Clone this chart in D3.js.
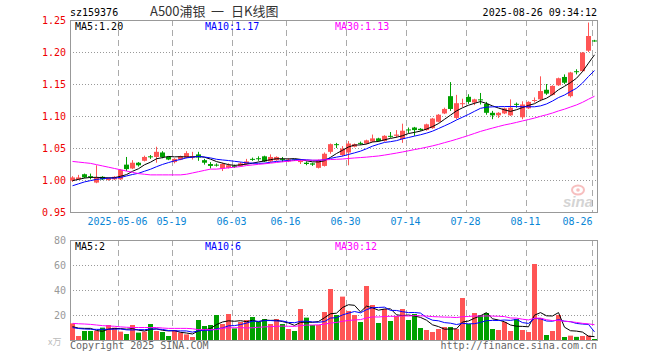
<!DOCTYPE html>
<html>
<head>
<meta charset="utf-8">
<script src="https://cdn.jsdelivr.net/npm/d3@7"></script>
<style>
body { margin: 0; background: #fff; }
svg { display: block; }
</style>
</head>
<body>
<svg width="660" height="360"></svg>
<script>
// trading days shown (2025)
var dates = ['04-21', '04-22', '04-23', '04-24', '04-25', '04-28', '04-29', '04-30', '05-06', '05-07',
  '05-08', '05-09', '05-12', '05-13', '05-14', '05-15', '05-16', '05-19', '05-20', '05-21',
  '05-22', '05-23', '05-26', '05-27', '05-28', '05-29', '05-30', '06-03', '06-04', '06-05',
  '06-06', '06-09', '06-10', '06-11', '06-12', '06-13', '06-16', '06-17', '06-18', '06-19',
  '06-20', '06-23', '06-24', '06-25', '06-26', '06-27', '06-30', '07-01', '07-02', '07-03',
  '07-04', '07-07', '07-08', '07-09', '07-10', '07-11', '07-14', '07-15', '07-16', '07-17',
  '07-18', '07-21', '07-22', '07-23', '07-24', '07-25', '07-28', '07-29', '07-30', '07-31',
  '08-01', '08-04', '08-05', '08-06', '08-07', '08-08', '08-11', '08-12', '08-13', '08-14',
  '08-15', '08-18', '08-19', '08-20', '08-21', '08-22', '08-25', '08-26'];

var open = [0.999, 1.001, 1.009, 1.006, 0.996, 1.005, 1.000, 1.001, 1.001, 1.024,
  1.018, 1.027, 1.030, 1.037, 1.036, 1.043, 1.036, 1.028, 1.032, 1.035,
  1.035, 1.040, 1.031, 1.025, 1.024, 1.018, 1.019, 1.022, 1.022, 1.025,
  1.033, 1.034, 1.037, 1.029, 1.031, 1.033, 1.029, 1.032, 1.028, 1.027,
  1.026, 1.019, 1.022, 1.044, 1.056, 1.039, 1.043, 1.052, 1.058, 1.057,
  1.060, 1.065, 1.061, 1.069, 1.069, 1.064, 1.079, 1.082, 1.080, 1.078,
  1.081, 1.091, 1.104, 1.131, 1.097, 1.119, 1.130, 1.121, 1.126, 1.119,
  1.105, 1.101, 1.104, 1.101, 1.119, 1.098, 1.112, 1.124, 1.126, 1.141,
  1.133, 1.148, 1.161, 1.131, 1.170, 1.170, 1.202, 1.218];

var high = [1.006, 1.008, 1.010, 1.010, 1.023, 1.006, 1.004, 1.006, 1.017, 1.036,
  1.031, 1.028, 1.038, 1.039, 1.052, 1.045, 1.037, 1.034, 1.038, 1.045,
  1.044, 1.044, 1.033, 1.028, 1.026, 1.027, 1.026, 1.024, 1.028, 1.033,
  1.035, 1.037, 1.038, 1.040, 1.037, 1.036, 1.034, 1.032, 1.032, 1.029,
  1.027, 1.032, 1.043, 1.057, 1.058, 1.053, 1.061, 1.057, 1.060, 1.063,
  1.071, 1.066, 1.070, 1.075, 1.078, 1.088, 1.082, 1.083, 1.081, 1.088,
  1.097, 1.103, 1.113, 1.153, 1.133, 1.127, 1.134, 1.127, 1.136, 1.122,
  1.108, 1.106, 1.113, 1.126, 1.121, 1.123, 1.123, 1.129, 1.162, 1.150,
  1.148, 1.160, 1.165, 1.169, 1.173, 1.200, 1.246, 1.219];

var low = [0.997, 1.000, 1.003, 1.001, 0.995, 1.000, 0.999, 1.000, 1.000, 1.014,
  1.017, 1.021, 1.029, 1.033, 1.027, 1.034, 1.031, 1.026, 1.031, 1.034,
  1.032, 1.030, 1.024, 1.018, 1.021, 1.014, 1.018, 1.019, 1.021, 1.024,
  1.030, 1.030, 1.028, 1.028, 1.030, 1.028, 1.028, 1.030, 1.025, 1.023,
  1.022, 1.018, 1.021, 1.041, 1.050, 1.037, 1.023, 1.051, 1.055, 1.056,
  1.059, 1.060, 1.060, 1.066, 1.066, 1.058, 1.073, 1.069, 1.077, 1.077,
  1.080, 1.090, 1.103, 1.108, 1.095, 1.114, 1.119, 1.117, 1.118, 1.102,
  1.095, 1.097, 1.103, 1.100, 1.113, 1.095, 1.111, 1.121, 1.123, 1.133,
  1.132, 1.147, 1.150, 1.129, 1.165, 1.169, 1.200, 1.216];

var close = [1.004, 1.004, 1.004, 1.005, 1.004, 1.001, 1.003, 1.005, 1.016, 1.017,
  1.027, 1.023, 1.036, 1.036, 1.044, 1.036, 1.032, 1.033, 1.037, 1.042,
  1.037, 1.035, 1.027, 1.022, 1.023, 1.025, 1.023, 1.021, 1.026, 1.029,
  1.032, 1.033, 1.029, 1.036, 1.036, 1.032, 1.032, 1.031, 1.030, 1.025,
  1.024, 1.031, 1.041, 1.056, 1.055, 1.049, 1.057, 1.056, 1.057, 1.062,
  1.065, 1.061, 1.069, 1.068, 1.071, 1.077, 1.078, 1.078, 1.078, 1.087,
  1.096, 1.102, 1.111, 1.111, 1.120, 1.120, 1.122, 1.126, 1.125, 1.105,
  1.101, 1.105, 1.112, 1.113, 1.118, 1.118, 1.122, 1.125, 1.139, 1.135,
  1.147, 1.159, 1.152, 1.168, 1.169, 1.199, 1.225, 1.217];

// volume, 万
var volume = [13.3, 3.2, 7.2, 7.2, 7.2, 9.9, 12, 9.9, 6.7, 4.8,
  12, 5.9, 6.7, 12.8, 7.2, 6.4, 3.2, 8, 5.9, 4.5,
  2.4, 16, 11.2, 12, 20, 12.8, 20.8, 9.3, 14.4, 16,
  18.4, 14.4, 16.8, 12.8, 16.8, 12.8, 8.8, 7.2, 24.8, 17.9,
  12, 12, 22.4, 40.8, 20, 34.7, 23.2, 20, 14.4, 43.2,
  28, 13.6, 24.8, 15.2, 19.2, 24.8, 16, 20.8, 9.6, 8,
  6.4, 8.8, 10.4, 10.4, 8.8, 33.6, 12.8, 21.6, 20, 21.6,
  8.8, 8, 14.4, 7.2, 16.8, 8, 6.4, 60.8, 17.6, 4,
  7.2, 20, 2.4, 3.5, 2.5, 3.2, 3.5, 0.8];

// moving average values at the left edge (history before the window)
var ma5Head = [0.999, 1.001, 1.003, 1.004];
var ma10Head = [0.991, 0.994, 0.997, 0.999, 1.001, 1.002, 1.003, 1.003, 1.004];
var ma30Head = [1.029, 1.028, 1.027, 1.026, 1.024, 1.022, 1.020, 1.018, 1.016, 1.014,
  1.012, 1.010, 1.009, 1.008, 1.008, 1.008, 1.008, 1.008, 1.008, 1.009,
  1.011, 1.013, 1.015, 1.017, 1.017, 1.018, 1.019, 1.020, 1.021];
var volMa5Head = [10.7, 9.5, 9.3, 9.3];
var volMa10Head = [9.9, 9.2, 8.8, 8.6, 8.5, 8.5, 8.6, 8.7, 8.8];
var volMa30Head = [13.3, 13, 12.8, 12.5, 12, 11.5, 11.2, 11, 10.5, 10.2,
  10, 10, 10, 10, 10, 9.6, 9.3, 9.3, 9.3, 9.3,
  9, 8.3, 8.3, 8.3, 8.3, 9.5, 9.8, 9.8, 9.9];

var priceTicks = [0.95, 1.00, 1.05, 1.10, 1.15, 1.20, 1.25];
var volTicks = [20, 40, 60, 80];
var xTickDates = ['05-06', '05-19', '06-03', '06-16', '06-30', '07-14', '07-28', '08-11', '08-26'];

var svg = d3.select('svg');
var mono = 'DejaVu Sans Mono, monospace';
var red = '#ff5555';
var green = '#00a000';
var n = dates.length;

function movingAvg(vals, len, head) {
  return vals.map(function(v, i) {
    if (i < len - 1) return head[i];
    return d3.mean(vals.slice(i - len + 1, i + 1));
  });
}

var x = d3.scaleLinear().domain([0, n]).range([70, 598]);
var y = d3.scaleLinear().domain([0.95, 1.25]).range([212, 20]);
var yv = d3.scaleLinear().domain([0, 80]).range([340, 240]);

// grid
var grid = svg.append('g');
grid.selectAll('.hg').data(priceTicks.slice(1, -1)).enter().append('line')
  .attr('x1', 70).attr('x2', 597)
  .attr('y1', function(d) { return Math.round(y(d)) + 0.5; })
  .attr('y2', function(d) { return Math.round(y(d)) + 0.5; })
  .attr('stroke', '#999').attr('stroke-dasharray', '1,2');
grid.selectAll('.hv').data(volTicks.slice(0, -1)).enter().append('line')
  .attr('x1', 70).attr('x2', 597)
  .attr('y1', function(d) { return Math.round(yv(d)) + 0.5; })
  .attr('y2', function(d) { return Math.round(yv(d)) + 0.5; })
  .attr('stroke', '#999').attr('stroke-dasharray', '1,2');
var tickIdx = xTickDates.map(function(d) { return dates.indexOf(d); });
[[20, 212], [240, 340]].forEach(function(r) {
  grid.selectAll(null).data(tickIdx).enter().append('line')
    .attr('x1', function(i) { return x(i) + 0.5; })
    .attr('x2', function(i) { return x(i) + 0.5; })
    .attr('y1', r[0]).attr('y2', r[1])
    .attr('stroke', '#aaa').attr('stroke-dasharray', '6,4');
});

// frames
svg.append('rect').attr('x', 70.5).attr('y', 20.5).attr('width', 527).attr('height', 192)
  .attr('fill', 'none').attr('stroke', '#999');
svg.append('rect').attr('x', 70.5).attr('y', 240.5).attr('width', 527).attr('height', 100)
  .attr('fill', 'none').attr('stroke', '#999');

// sina watermark
var wm = svg.append('g').attr('opacity', 0.5);
wm.append('ellipse').attr('cx', 578).attr('cy', 190).attr('rx', 6).attr('ry', 4.5)
  .attr('fill', 'none').attr('stroke', '#f08080').attr('stroke-width', 2);
wm.append('circle').attr('cx', 578).attr('cy', 190).attr('r', 1.8).attr('fill', '#f08080');
wm.append('text').attr('x', 563).attr('y', 207).text('sina')
  .attr('font-family', 'Liberation Sans, sans-serif').attr('font-size', 15)
  .attr('font-weight', 'bold').attr('font-style', 'italic').attr('fill', '#aaa');

// candles
var candles = svg.append('g');
d3.range(n).forEach(function(i) {
  var up = close[i] >= open[i];
  var col = up ? red : green;
  var g = candles.append('g');
  g.append('line')
    .attr('x1', x(i) + 2.5).attr('x2', x(i) + 2.5)
    .attr('y1', y(high[i])).attr('y2', y(low[i]))
    .attr('stroke', col);
  var top = y(Math.max(open[i], close[i]));
  var bot = y(Math.min(open[i], close[i]));
  g.append('rect')
    .attr('x', x(i)).attr('width', 5)
    .attr('y', top).attr('height', Math.max(1, bot - top))
    .attr('fill', col);
});

// price moving averages
var maSeries = [
  { name: 'MA5', vals: movingAvg(close, 5, ma5Head), color: '#000', lx: 75 },
  { name: 'MA10', vals: movingAvg(close, 10, ma10Head), color: '#0000ff', lx: 205 },
  { name: 'MA30', vals: movingAvg(close, 30, ma30Head), color: '#ff00ff', lx: 335 }
];
var line = d3.line().x(function(d, i) { return x(i) + 2.5; }).y(function(d) { return y(d); });
maSeries.forEach(function(s) {
  svg.append('path').attr('d', line(s.vals)).attr('fill', 'none').attr('stroke', s.color).attr('stroke-width', 1);
  svg.append('text').attr('x', s.lx).attr('y', 30)
    .text(s.name + ':' + s.vals[n - 1].toFixed(2))
    .attr('font-family', mono).attr('font-size', 10).attr('fill', s.color);
});

// volume bars
svg.append('g').selectAll('rect').data(volume).enter().append('rect')
  .attr('x', function(d, i) { return x(i); })
  .attr('width', 5)
  .attr('y', function(d) { return yv(d); })
  .attr('height', function(d) { return 340 - yv(d); })
  .attr('fill', function(d, i) { return close[i] >= open[i] ? red : green; });

var volSeries = [
  { name: 'MA5', vals: movingAvg(volume, 5, volMa5Head), color: '#000', lx: 75 },
  { name: 'MA10', vals: movingAvg(volume, 10, volMa10Head), color: '#0000ff', lx: 205 },
  { name: 'MA30', vals: movingAvg(volume, 30, volMa30Head), color: '#ff00ff', lx: 335 }
];
var vline = d3.line().x(function(d, i) { return x(i) + 2.5; }).y(function(d) { return yv(d); });
volSeries.forEach(function(s) {
  svg.append('path').attr('d', vline(s.vals)).attr('fill', 'none').attr('stroke', s.color).attr('stroke-width', 1);
  svg.append('text').attr('x', s.lx).attr('y', 250)
    .text(s.name + ':' + Math.floor(s.vals[n - 1]))
    .attr('font-family', mono).attr('font-size', 10).attr('fill', s.color);
});

// axes
var yAxis = svg.append('g').attr('transform', 'translate(70,0)')
  .call(d3.axisLeft(y).tickValues(priceTicks).tickSize(0).tickPadding(4).tickFormat(d3.format('.2f')));
yAxis.select('.domain').remove();
yAxis.selectAll('text').attr('fill', '#ee0000').attr('font-family', mono).attr('font-size', 10);

var vAxis = svg.append('g').attr('transform', 'translate(70,0)')
  .call(d3.axisLeft(yv).tickValues(volTicks).tickSize(0).tickPadding(4));
vAxis.select('.domain').remove();
vAxis.selectAll('text').attr('fill', '#999').attr('font-family', mono).attr('font-size', 10);

var xAxis = svg.append('g').attr('transform', 'translate(0,212)')
  .call(d3.axisBottom(x).tickValues(tickIdx).tickSize(0).tickPadding(6)
    .tickFormat(function(i) { return i === tickIdx[0] ? '2025-' + dates[i] : dates[i]; }));
xAxis.select('.domain').remove();
xAxis.selectAll('text').attr('fill', '#0a86d6').attr('font-family', mono).attr('font-size', 10)
  .attr('dx', -1);
xAxis.selectAll('text').filter(function(i) { return i === tickIdx[tickIdx.length - 1]; })
  .attr('text-anchor', 'end').attr('dx', 0);

// header and footer
svg.append('text').attr('x', 70).attr('y', 16).text('sz159376')
  .attr('font-family', mono).attr('font-size', 10).attr('fill', '#000');
svg.append('text').attr('x', 597).attr('y', 16).attr('text-anchor', 'end').text('2025-08-26 09:34:12')
  .attr('font-family', mono).attr('font-size', 10).attr('fill', '#000');
var title = svg.append('g').attr('font-family', 'Noto Sans CJK SC, sans-serif').attr('font-size', 13).attr('fill', '#333');
title.append('text').attr('x', 150).attr('y', 16).text('A500浦银');
title.append('text').attr('x', 211).attr('y', 16).text('一');
title.append('text').attr('x', 231).attr('y', 16).text('日K线图');

svg.append('text').attr('x', 48).attr('y', 345).text('x万')
  .attr('font-family', 'Noto Sans CJK SC, sans-serif').attr('font-size', 9).attr('fill', '#bbb');
svg.append('text').attr('x', 70).attr('y', 349).text('Copyright 2025 SINA.COM')
  .attr('font-family', mono).attr('font-size', 10).attr('fill', '#666');
svg.append('text').attr('x', 597).attr('y', 349).attr('text-anchor', 'end').text('http://finance.sina.com.cn')
  .attr('font-family', mono).attr('font-size', 10).attr('fill', '#666');
</script>
</body>
</html>
